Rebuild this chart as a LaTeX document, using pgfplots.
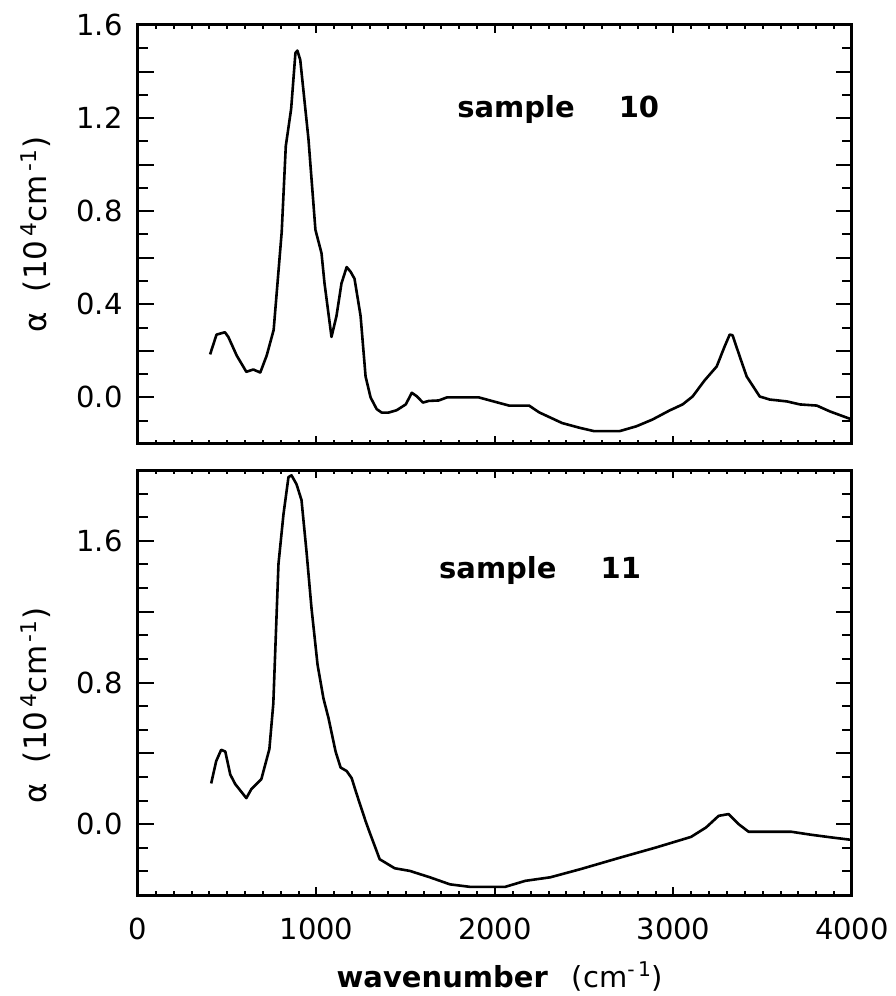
\documentclass[border=0pt]{standalone}
\usepackage{fontspec}
\setmainfont{DejaVu Sans}
\usepackage{pgfplots}
\pgfplotsset{compat=1.18}
\newcommand{\tf}{\fontsize{14.5}{17}\selectfont}
\newcommand{\lf}{\fontsize{15.5}{18}\selectfont}
\pgfplotstableread{
x y
404 0.185
440 0.27
487 0.28
506 0.26
553 0.18
607 0.11
646 0.12
685 0.107
721 0.18
760 0.29
805 0.71
828 1.08
858 1.24
882 1.48
893 1.49
909 1.45
955 1.11
994 0.72
1028 0.62
1045 0.49
1084 0.26
1112 0.35
1140 0.49
1169 0.56
1191 0.54
1213 0.51
1247 0.35
1275 0.09
1303 0.0
1337 -0.05
1365 -0.065
1404 -0.065
1449 -0.055
1500 -0.03
1534 0.02
1562 0.005
1596 -0.022
1629 -0.015
1685 -0.013
1730 0.0
1910 0.0
2006 -0.02
2079 -0.035
2191 -0.035
2247 -0.064
2376 -0.11
2472 -0.13
2556 -0.145
2697 -0.145
2792 -0.124
2882 -0.095
2978 -0.056
3051 -0.03
3107 0.004
3174 0.073
3242 0.133
3287 0.22
3315 0.27
3331 0.267
3371 0.176
3410 0.09
3483 0.004
3539 -0.009
3635 -0.017
3708 -0.03
3803 -0.035
3876 -0.06
4000 -0.095
}\sampleten
\pgfplotstableread{
x y
410 0.23
438 0.356
466 0.42
489 0.41
517 0.28
545 0.226
607 0.147
635 0.198
691 0.254
736 0.424
758 0.68
787 1.47
815 1.75
843 1.96
860 1.97
888 1.92
916 1.83
944 1.54
972 1.22
1006 0.90
1039 0.71
1067 0.60
1107 0.41
1135 0.32
1169 0.30
1197 0.26
1225 0.17
1275 0.017
1298 -0.047
1354 -0.198
1438 -0.249
1523 -0.264
1635 -0.30
1748 -0.34
1860 -0.354
2057 -0.354
2170 -0.32
2310 -0.30
2479 -0.254
2704 -0.188
2901 -0.132
3098 -0.072
3182 -0.019
3253 0.047
3309 0.057
3365 0.0
3421 -0.043
3661 -0.043
3773 -0.06
3886 -0.075
4000 -0.089
}\sampleeleven
\pgfplotsset{
  myax/.style={
    scale only axis, width=357pt, anchor=south west,
    clip=false,
    xmin=0, xmax=4000,
    xtick={0,1000,2000,3000,4000},
    minor x tick num=9,
    tick align=inside,
    axis line style={line width=1.5pt},
    tick style={line width=1pt, black},
    xtick style={/pgfplots/major tick length=4pt,/pgfplots/minor tick length=2pt},
    ytick style={/pgfplots/major tick length=8pt,/pgfplots/minor tick length=5pt},
    tick label style={font=\tf},
    xticklabel style={inner sep=0pt, yshift=-11.5pt},
    yticklabel style={inner sep=0pt, xshift=-7.5pt},
  }
}
\begin{document}
\begin{tikzpicture}[x=1pt,y=1pt]
\useasboundingbox (0,0) rectangle (447.5,498);
\begin{axis}[myax, at={(69pt,276pt)}, height=209.5pt,
  ymin=-0.2, ymax=1.6,
  xticklabels={},
  ytick={-0.2,0,0.2,0.4,0.6,0.8,1.0,1.2,1.4,1.6},
  yticklabels={,0.0,,0.4,,0.8,,1.2,,1.6},
  minor y tick num=1]
\addplot[black, line width=1.3pt, line join=round] table[x=x,y=y] {\sampleten};
\node[anchor=base west, inner sep=0pt, font=\fontsize{14.5}{17}\selectfont\bfseries] at (axis cs:1787,1.204) {sample\hspace{22pt}10};
\node[rotate=90, anchor=center, inner sep=0pt, font=\lf] at (axis description cs:-0.143,0.5) {α\hspace{10pt}(10\textsuperscript{\,4}cm\textsuperscript{\,-1})};
\end{axis}
\begin{axis}[myax, at={(69pt,50.5pt)}, height=212.5pt,
  ymin=-0.4, ymax=2.0,
  xticklabels={0,1000,2000,3000,4000},
  ytick={-0.4,0,0.4,0.8,1.2,1.6,2.0},
  yticklabels={,0.0,,0.8,,1.6,},
  minor y tick num=2]
\addplot[black, line width=1.3pt, line join=round] table[x=x,y=y] {\sampleeleven};
\node[anchor=base west, inner sep=0pt, font=\fontsize{14.5}{17}\selectfont\bfseries] at (axis cs:1685,1.385) {sample\hspace{22pt}11};
\node[rotate=90, anchor=center, inner sep=0pt, font=\lf] at (axis description cs:-0.143,0.446) {α\hspace{10pt}(10\textsuperscript{\,4}cm\textsuperscript{\,-1})};
\node[anchor=base, inner sep=0pt, font=\tf] at (axis description cs:0.507,-0.2165) {{\bfseries wavenumber}\hspace{12pt}(cm\textsuperscript{-\,1})};
\end{axis}
\end{tikzpicture}
\end{document}
